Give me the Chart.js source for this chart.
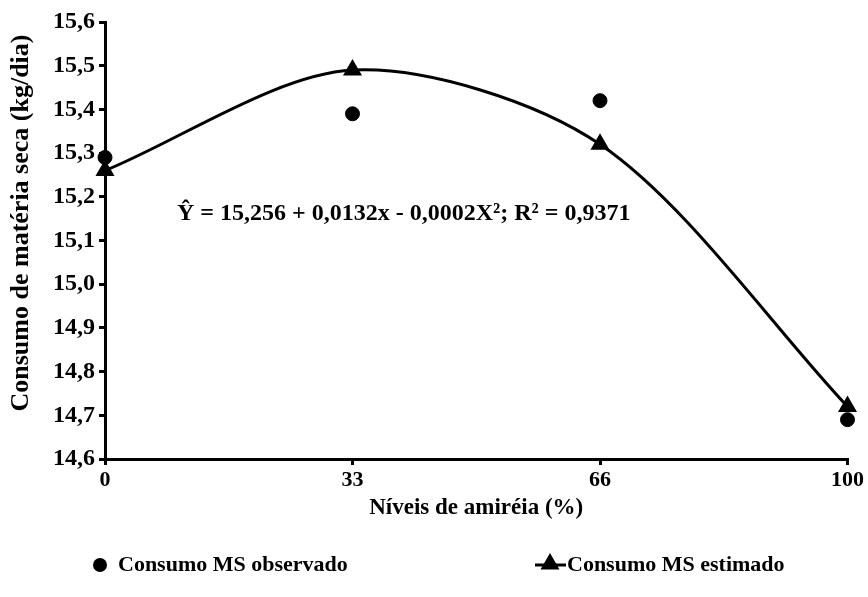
<!DOCTYPE html>
<html>
<head>
<meta charset="utf-8">
<script src="https://cdn.jsdelivr.net/npm/chart.js@4.4.1/dist/chart.umd.min.js"></script>
<style>
    html, body { margin: 0; padding: 0; background: #fff; }
    #wrap { width: 868px; height: 597px; }
</style>
</head>
<body>
<div id="wrap"><canvas id="chart"></canvas></div>
<script>
const niveis = ["0", "33", "66", "100"];
const consumoObservado = [15.29, 15.39, 15.42, 14.69];
const consumoEstimado = [15.26, 15.49, 15.32, 14.72];
const yTickValues = [14.6, 14.7, 14.8, 14.9, 15.0, 15.1, 15.2, 15.3, 15.4, 15.5, 15.6];
const equacao = "Ŷ = 15,256 + 0,0132x - 0,0002X²; R² = 0,9371";
const tituloY = "Consumo de matéria seca (kg/dia)";
const legendas = ["Consumo MS observado", "Consumo MS estimado"];

const FONT = "'Liberation Serif', 'Times New Roman', serif";

// y title, equation text and legend drawn on the canvas
const extrasPlugin = {
    id: "extras",
    afterDraw(chart) {
        const ctx = chart.ctx;
        const area = chart.chartArea;
        ctx.save();
        ctx.fillStyle = "#000";
        ctx.strokeStyle = "#000";
        ctx.textBaseline = "middle";
        ctx.textAlign = "center";

        ctx.save();
        ctx.translate(21, 223);
        ctx.rotate(-Math.PI / 2);
        ctx.font = "bold 26px " + FONT;
        ctx.fillText(tituloY, 0, 0);
        ctx.restore();

        ctx.textAlign = "left";
        ctx.font = "bold 24px " + FONT;
        ctx.fillText(equacao, area.left + 72, chart.scales.y.getPixelForValue(15.16));

        // legend
        ctx.font = "bold 22px " + FONT;
        const ly = 565;
        ctx.beginPath();
        ctx.arc(100, ly, 7, 0, Math.PI * 2);
        ctx.fill();
        ctx.fillText(legendas[0], 118, ly);

        ctx.lineWidth = 3;
        ctx.beginPath();
        ctx.moveTo(535, ly);
        ctx.lineTo(566, ly);
        ctx.stroke();
        Chart.helpers.drawPoint(ctx, { pointStyle: "triangle", radius: 8, rotation: 0, borderWidth: 1 }, 550, ly - 1);
        ctx.fill();
        ctx.fillText(legendas[1], 567, ly);
        ctx.restore();
    },
};

const ctx = document.getElementById("chart").getContext("2d");
new Chart(ctx, {
    type: "line",
    data: {
        labels: niveis,
        datasets: [
            {
                label: legendas[0],
                data: consumoObservado,
                showLine: false,
                pointStyle: "circle",
                pointRadius: 7,
                pointBackgroundColor: "#000",
                pointBorderColor: "#000",
                clip: false,
            },
            {
                label: legendas[1],
                data: consumoEstimado,
                borderColor: "#000",
                borderWidth: 3,
                tension: 0.3,
                pointStyle: "triangle",
                pointRadius: 8,
                pointBackgroundColor: "#000",
                pointBorderColor: "#000",
                clip: false,
            },
        ],
    },
    options: {
        responsive: true,
        maintainAspectRatio: false,
        animation: false,
        layout: { padding: { top: 22, right: 20, left: 49, bottom: 73 } },
        plugins: {
            legend: { display: false },
            tooltip: { enabled: false },
        },
        scales: {
            x: {
                offset: false,
                grid: { drawOnChartArea: false, drawTicks: true, tickLength: 6, color: "#000", lineWidth: 3 },
                border: { color: "#000", width: 3 },
                ticks: { color: "#000", padding: 4, maxRotation: 0, font: { family: FONT, size: 22, weight: "bold", lineHeight: 1 } },
                title: {
                    display: true,
                    text: "Níveis de amiréia (%)",
                    color: "#000",
                    padding: { top: 2, bottom: 4 },
                    font: { family: FONT, size: 23, weight: "bold", lineHeight: 1 },
                },
            },
            y: {
                min: 14.6,
                max: 15.6,
                afterBuildTicks(scale) {
                    scale.ticks = yTickValues.map((v) => ({ value: v }));
                },
                grid: { drawOnChartArea: false, drawTicks: true, tickLength: 6, color: "#000", lineWidth: 3 },
                border: { color: "#000", width: 3 },
                ticks: {
                    color: "#000",
                    padding: 4,
                    font: { family: FONT, size: 24, weight: "bold" },
                    callback: (v) => Number(v).toFixed(1).replace(".", ","),
                },
                title: { display: false },
            },
        },
    },
    plugins: [extrasPlugin],
});
</script>
</body>
</html>
